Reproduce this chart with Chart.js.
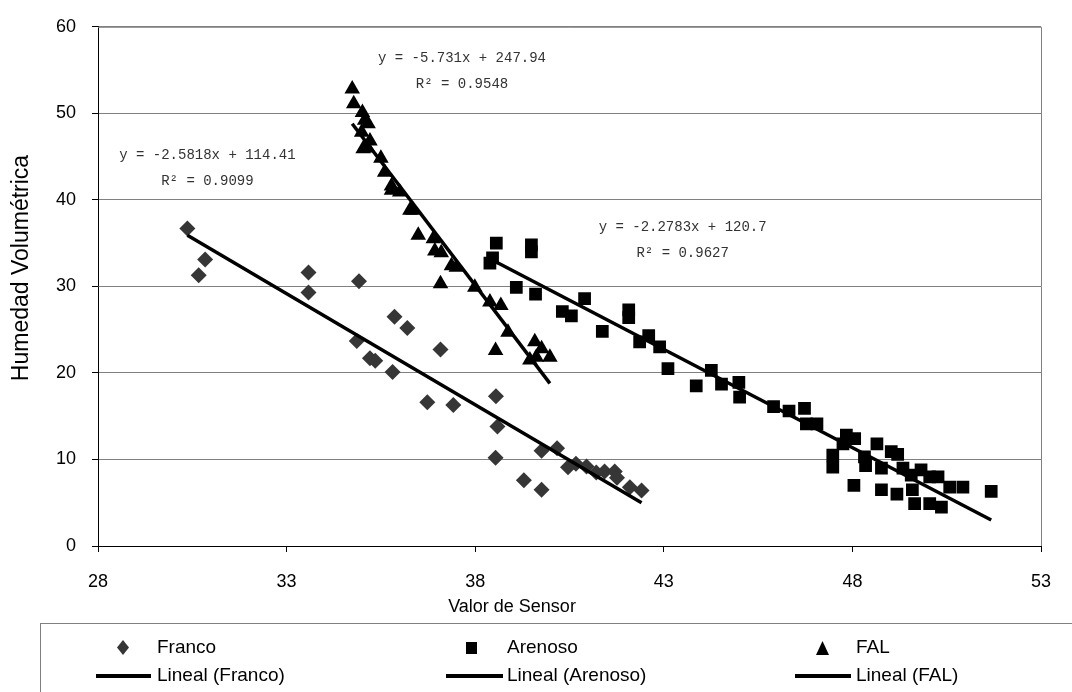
<!DOCTYPE html>
<html>
<head>
<meta charset="utf-8">
<script src="https://cdn.jsdelivr.net/npm/chart.js@4.4.1/dist/chart.umd.min.js"></script>
<style>
  body { margin: 0; background: #fff; }
  #wrap { position: relative; width: 1072px; height: 692px; overflow: hidden; }
  #legend { position: absolute; left: 40px; top: 623px; width: 1100px; height: 100px;
            border: 1px solid #808080; box-sizing: border-box;
            font-family: 'Liberation Sans', Arial, sans-serif; font-size: 19px; color: #000; }
  .item { position: absolute; white-space: nowrap; line-height: 20px; }
  .item svg { position: absolute; }
</style>
</head>
<body>
<div id="wrap">
  <canvas id="myChart" width="1072" height="692"></canvas>
  <div id="legend"></div>
</div>
<script>
// Datos
const francoX = [30.37, 30.84, 30.67, 33.58, 33.58, 34.92, 35.86, 36.20, 34.86, 35.21, 35.35, 35.81, 37.08, 36.73, 37.42, 38.55,
    38.59, 38.54, 39.76, 40.17, 39.29, 39.76, 40.46, 40.67, 40.95, 41.21, 41.43, 41.70, 41.76, 42.10, 42.41];
const francoY = [36.7, 33.1, 31.3, 31.6, 29.3, 30.6, 26.5, 25.2, 23.7, 21.7, 21.4, 20.1, 22.7, 16.6, 16.3, 17.3,
    13.8, 10.2, 11.0, 11.3, 7.6, 6.5, 9.1, 9.5, 9.2, 8.5, 8.6, 8.6, 7.9, 6.8, 6.4];

const arenosoX = [38.56, 39.49, 39.49, 38.46, 38.39, 39.09, 39.60, 40.90, 40.31, 40.55, 42.07, 42.07, 41.37, 42.60, 42.36,
    42.89, 43.11, 43.86, 44.26, 44.53, 44.99, 45.01, 45.91, 46.32, 46.73, 46.78, 47.06, 47.48, 47.48, 47.84, 47.75,
    48.06, 48.04, 48.65, 48.35, 48.32, 48.77, 49.03, 49.20, 48.77, 49.18, 49.34, 49.56, 49.82, 49.59, 49.65, 50.05,
    50.27, 50.05, 50.36, 50.58, 50.93, 51.68];
const arenosoY = [35.0, 34.8, 34.0, 33.3, 32.7, 29.9, 29.1, 28.6, 27.1, 26.6, 27.3, 26.4, 24.8, 24.3, 23.6,
    23.0, 20.5, 18.5, 20.3, 18.7, 18.9, 17.2, 16.1, 15.6, 15.9, 14.1, 14.1, 10.5, 9.1, 12.8, 11.8,
    12.4, 7.0, 11.8, 9.3, 10.3, 9.0, 10.9, 10.6, 6.5, 6.0, 9.0, 8.2, 8.8, 6.5, 4.9, 8.0,
    8.0, 4.9, 4.5, 6.8, 6.8, 6.3];

const falX = [34.74, 34.78, 35.01, 35.07, 35.16, 34.99, 35.21, 35.03, 35.15, 35.50, 35.60, 35.78, 35.78, 36.00, 36.27,
    36.35, 36.49, 36.89, 36.93, 37.10, 37.37, 37.50, 37.08, 37.99, 38.39, 38.68, 38.87, 38.54, 39.58, 39.76, 39.98,
    39.45, 39.62];
const falY = [52.8, 51.1, 50.1, 49.2, 48.8, 47.8, 46.8, 45.9, 46.0, 44.8, 43.2, 41.6, 41.1, 40.9, 38.8,
    38.8, 35.9, 35.5, 34.1, 33.9, 32.4, 32.2, 30.3, 29.9, 28.2, 27.8, 24.7, 22.6, 23.6, 22.8, 21.8,
    21.5, 21.8];

// lineas de tendencia (extremos)
const francoTrendX = [30.37, 42.41];
const francoTrendY = [35.9, 5.0];
const arenosoTrendX = [38.39, 51.68];
const arenosoTrendY = [33.2, 3.0];
const falTrendX = [34.74, 39.98];
const falTrendY = [48.8, 18.8];

const xTicks = [28, 33, 38, 43, 48, 53];
const yTicks = [0, 10, 20, 30, 40, 50, 60];

const ecuaciones = [
    { x: 30.9, y: 45.1, lineas: ['y = -2.5818x + 114.41', 'R² = 0.9099'] },
    { x: 37.65, y: 56.4, lineas: ['y = -5.731x + 247.94', 'R² = 0.9548'] },
    { x: 43.5, y: 36.8, lineas: ['y = -2.2783x + 120.7', 'R² = 0.9627'] }
];

const puntos = (xs, ys) => xs.map((x, i) => ({ x: x, y: ys[i] }));

Chart.defaults.font.family = "'Liberation Sans', Arial, sans-serif";
Chart.defaults.color = '#000';

// borde superior/derecho, titulos de ejes y ecuaciones
const extras = {
    id: 'extras',
    afterDatasetsDraw(chart) {
        const { ctx, chartArea: a, scales } = chart;
        ctx.save();
        ctx.strokeStyle = '#808080';
        ctx.lineWidth = 1;
        ctx.beginPath();
        ctx.moveTo(a.left, a.top + 0.5);
        ctx.lineTo(a.right + 0.5, a.top + 0.5);
        ctx.lineTo(a.right + 0.5, a.bottom);
        ctx.stroke();

        ctx.font = "14px 'Liberation Mono', monospace";
        ctx.fillStyle = '#333';
        ctx.textAlign = 'center';
        ctx.textBaseline = 'middle';
        ecuaciones.forEach(e => {
            const px = scales.x.getPixelForValue(e.x);
            const py = scales.y.getPixelForValue(e.y);
            e.lineas.forEach((t, k) => ctx.fillText(t, px, py + k * 26));
        });

        // titulo eje X
        ctx.fillStyle = '#000';
        ctx.font = "18px 'Liberation Sans', Arial, sans-serif";
        ctx.fillText('Valor de Sensor', 512, 607);

        // titulo eje Y
        ctx.font = "23px 'Liberation Sans', Arial, sans-serif";
        ctx.translate(22, 268);
        ctx.rotate(-Math.PI / 2);
        ctx.fillText('Humedad Volumétrica', 0, 0);
        ctx.restore();
    }
};

const ctx = document.getElementById('myChart');
new Chart(ctx, {
    type: 'scatter',
    data: {
        datasets: [
            { label: 'Franco', data: puntos(francoX, francoY), pointStyle: 'rectRot', pointRadius: 8,
              backgroundColor: '#363636', borderColor: '#363636', borderWidth: 0, order: 2 },
            { label: 'Arenoso', data: puntos(arenosoX, arenosoY), pointStyle: 'rect', pointRadius: 9,
              backgroundColor: '#000', borderColor: '#000', borderWidth: 0, order: 2 },
            { label: 'FAL', data: puntos(falX, falY), pointStyle: 'triangle', pointRadius: 9,
              backgroundColor: '#000', borderColor: '#000', borderWidth: 0, order: 2 },
            { label: 'Lineal (Franco)', data: puntos(francoTrendX, francoTrendY), showLine: true, pointRadius: 0,
              borderColor: '#000', borderWidth: 3.5, order: 1 },
            { label: 'Lineal (Arenoso)', data: puntos(arenosoTrendX, arenosoTrendY), showLine: true, pointRadius: 0,
              borderColor: '#000', borderWidth: 3.5, order: 1 },
            { label: 'Lineal (FAL)', data: puntos(falTrendX, falTrendY), showLine: true, pointRadius: 0,
              borderColor: '#000', borderWidth: 3.5, order: 1 }
        ]
    },
    options: {
        responsive: false,
        animation: false,
        layout: { padding: { left: 0, top: 26, right: 31, bottom: 66 } },
        plugins: { legend: { display: false }, tooltip: { enabled: false } },
        scales: {
            x: {
                type: 'linear', min: 28, max: 53,
                afterFit: s => { s.height = 80; },
                afterBuildTicks: s => { s.ticks = xTicks.map(v => ({ value: v })); },
                ticks: { font: { size: 18 }, padding: 19, maxRotation: 0 },
                grid: { drawOnChartArea: false, tickLength: 6, tickColor: '#000' },
                border: { color: '#000', width: 1 }
            },
            y: {
                min: 0, max: 60,
                afterFit: s => { s.width = 98; },
                afterBuildTicks: s => { s.ticks = yTicks.map(v => ({ value: v })); },
                ticks: { font: { size: 18 }, padding: 16 },
                grid: { color: '#808080', lineWidth: 1, tickLength: 6, tickColor: '#000' },
                border: { color: '#000', width: 1 }
            }
        }
    },
    plugins: [extras]
});

// leyenda
const leyenda = document.getElementById('legend');
const items = [
    { x: 116, y: 13, sym: '<svg width="12" height="15" style="left:-40px;top:3px"><polygon points="6,0 12,7.5 6,15 0,7.5" fill="#363636"/></svg>', txt: 'Franco' },
    { x: 466, y: 13, sym: '<svg width="11" height="12" style="left:-41px;top:5px"><rect width="11" height="12" fill="#000"/></svg>', txt: 'Arenoso' },
    { x: 815, y: 13, sym: '<svg width="13" height="14" style="left:-40px;top:4px"><polygon points="6.5,0 13,14 0,14" fill="#000"/></svg>', txt: 'FAL' },
    { x: 116, y: 41, sym: '<svg width="55" height="4" style="left:-61px;top:9px"><rect width="55" height="4" fill="#000"/></svg>', txt: 'Lineal (Franco)' },
    { x: 466, y: 41, sym: '<svg width="57" height="4" style="left:-61px;top:9px"><rect width="57" height="4" fill="#000"/></svg>', txt: 'Lineal (Arenoso)' },
    { x: 815, y: 41, sym: '<svg width="56" height="4" style="left:-61px;top:9px"><rect width="56" height="4" fill="#000"/></svg>', txt: 'Lineal (FAL)' }
];
items.forEach(it => {
    leyenda.innerHTML += `<div class="item" style="left:${it.x}px;top:${it.y}px">${it.sym}${it.txt}</div>`;
});
</script>
</body>
</html>
